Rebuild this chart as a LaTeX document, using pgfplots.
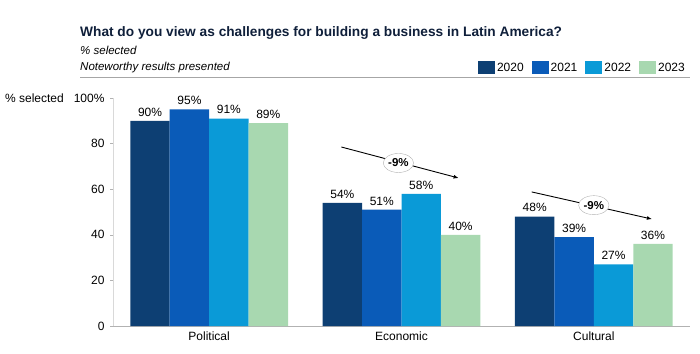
\documentclass[border=0pt]{standalone}
\usepackage{pgfplots}
\pgfplotsset{compat=1.18}
\usepackage{fontspec}
\setmainfont{Liberation Sans}
\usetikzlibrary{shapes.geometric,arrows.meta}
\definecolor{c20}{HTML}{0D3F73}
\definecolor{c21}{HTML}{0A5BB8}
\definecolor{c22}{HTML}{0A9AD7}
\definecolor{c23}{HTML}{A8D8B0}
\definecolor{ttl}{HTML}{0F1F3A}
\begin{document}
\begin{tikzpicture}
\path[use as bounding box] (0pt,0pt) rectangle (700pt,353pt);
\node[anchor=west,font=\fontsize{13.7}{15}\selectfont\bfseries,text=ttl,inner sep=0] at (80pt,320pt) {What do you view as challenges for building a business in Latin America?};
\node[anchor=west,font=\fontsize{11.5}{13}\selectfont\itshape,inner sep=0] at (80pt,303pt) {\% selected};
\node[anchor=west,font=\fontsize{11.5}{13}\selectfont\itshape,inner sep=0] at (80pt,285pt) {Noteworthy results presented};
\draw[gray!70,line width=0.8pt] (80pt,276pt) -- (690pt,276pt);
\node[anchor=east,font=\fontsize{12}{14}\selectfont,inner sep=0] at (64pt,255pt) {\% selected};
\begin{axis}[
  at={(113pt,27pt)}, anchor=south west,
  scale only axis, width=577pt, height=228pt,
  ybar=0pt, bar width=0.205,
  xmin=-0.5, xmax=2.5, ymin=0, ymax=100,
  xtick={0,1,2}, xticklabels={Political,Economic,Cultural},
  ytick={0,20,40,60,80,100}, yticklabels={0,20,40,60,80,100\%},
  /pgf/number format/assume math mode=true,
  tick label style={font=\fontsize{12}{14}\selectfont},
  axis x line*=bottom, axis y line*=left,
  x axis line style={draw=gray!60, line width=0.8pt, shorten <=-3pt},
  y axis line style={draw=gray!30, line width=0.6pt},
  xtick style={draw=none},
  ytick style={draw=gray!60},
  tick align=outside, major tick length=3pt,
  xticklabel style={yshift=1pt},
  yticklabel style={xshift=-2pt},
  nodes near coords={\pgfmathprintnumber{\pgfplotspointmeta}\%},
  every node near coord/.append style={font=\fontsize{12}{14}\selectfont, yshift=1pt},
  legend columns=4,
  legend style={at={(1,1.132)}, anchor=east, draw=none, fill=none,
    font=\fontsize{12}{14}\selectfont, /tikz/every even column/.append style={column sep=6pt}},
  legend image code/.code={\fill[#1] (0pt,-6pt) rectangle (17pt,7pt);},
  clip=false,
]
\addplot[fill=c20,draw=none] coordinates {(0,90) (1,54) (2,48)};
\addplot[fill=c21,draw=none] coordinates {(0,95) (1,51) (2,39)};
\addplot[fill=c22,draw=none] coordinates {(0,91) (1,58) (2,27)};
\addplot[fill=c23,draw=none] coordinates {(0,89) (1,40) (2,36)};
\legend{2020,2021,2022,2023}
\draw[-{Latex[length=5pt,width=4pt]},line width=0.9pt] (axis cs:0.6875,78.5) -- (axis cs:1.297,64.9);
\node[ellipse,draw=gray!60,fill=white,inner sep=0.5pt,minimum width=30pt,minimum height=19pt,font=\fontsize{11.5}{13}\selectfont\bfseries] at (axis cs:0.984,71.5) {-9\%};
\draw[-{Latex[length=5pt,width=4pt]},line width=0.9pt] (axis cs:1.677,58.8) -- (axis cs:2.302,46.9);
\node[ellipse,draw=gray!60,fill=white,inner sep=0.5pt,minimum width=30pt,minimum height=19pt,font=\fontsize{11.5}{13}\selectfont\bfseries] at (axis cs:2.0,53) {-9\%};
\end{axis}
\end{tikzpicture}
\end{document}
